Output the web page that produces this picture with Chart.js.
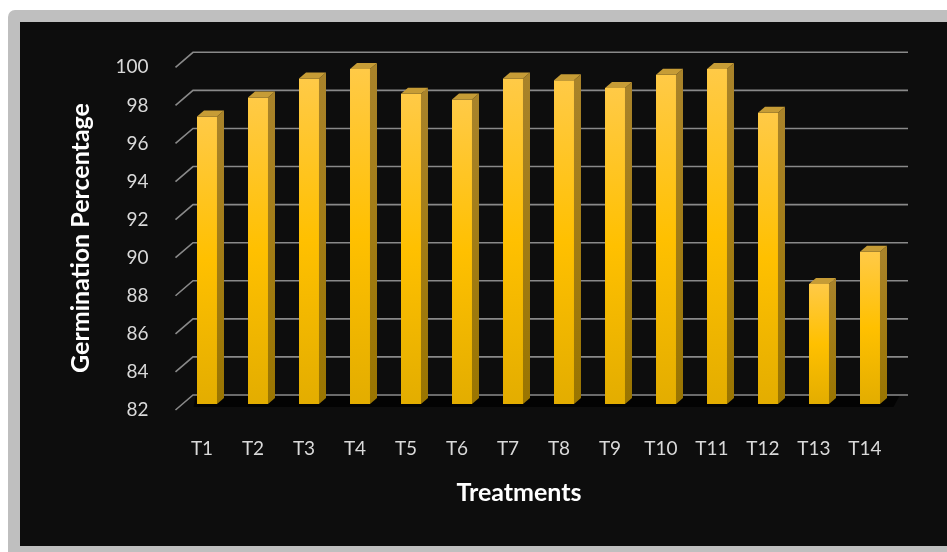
<!DOCTYPE html>
<html lang="en">
<head>
    <meta charset="UTF-8">
    <title>Germination Percentage</title>
    <script src="https://cdn.jsdelivr.net/npm/chart.js"></script>
    <style>
        body { margin: 0; background: #fff; }
    </style>
</head>
<body>

<canvas id="germChart" width="947" height="552"></canvas>

<script>
    // data
    const treatments = ['T1', 'T2', 'T3', 'T4', 'T5', 'T6', 'T7', 'T8', 'T9', 'T10', 'T11', 'T12', 'T13', 'T14'];
    const germination = [97.1, 98.1, 99.1, 99.6, 98.3, 98.0, 99.1, 99.0, 98.6, 99.3, 99.6, 97.3, 88.3, 90.0];
    const yTicks = [82, 84, 86, 88, 90, 92, 94, 96, 98, 100];
    const yTitle = 'Germination Percentage';
    const xTitle = 'Treatments';

    // 3d look: bar depth and floor depth (px)
    const barDx = 7, barDy = 6;
    const frontDx = -6, frontDy = 6;
    const backDx = 11.5, backDy = -9;

    // background frame
    const framePlugin = {
        id: 'frame',
        beforeDraw(chart) {
            const c = chart.ctx;
            c.save();
            c.fillStyle = '#ffffff';
            c.fillRect(0, 0, chart.width, chart.height);
            c.fillStyle = '#bfbfbf';
            c.beginPath();
            c.roundRect(8, 10, chart.width, chart.height, 7);
            c.fill();
            c.fillStyle = '#0d0d0d';
            c.fillRect(20, 22, chart.width - 20, 546 - 22);
            c.restore();
        }
    };

    // floor shadow + 3d gridlines
    const gridPlugin = {
        id: 'grid3d',
        beforeDatasetsDraw(chart) {
            const c = chart.ctx, y = chart.scales.y, area = chart.chartArea;
            c.save();
            // shadow on the floor
            const base = y.getPixelForValue(yTicks[0]);
            c.fillStyle = 'rgba(0,0,0,0.75)';
            c.beginPath();
            c.moveTo(area.left + 14, base - 8);
            c.lineTo(area.right + 4, base - 8);
            c.lineTo(area.right - 2, base + 3);
            c.lineTo(area.left + 12, base + 3);
            c.closePath();
            c.fill();

            c.strokeStyle = '#898989';
            c.lineWidth = 1.6;
            yTicks.forEach(v => {
                const py = y.getPixelForValue(v);
                c.beginPath();
                c.moveTo(area.left + frontDx, py + frontDy);
                c.lineTo(area.left + backDx, py + backDy);
                c.lineTo(area.right + backDx + 1, py + backDy);
                c.stroke();
            });
            c.restore();
        }
    };

    // side and top faces of the bars
    const barsPlugin = {
        id: 'bars3d',
        afterDatasetsDraw(chart) {
            const c = chart.ctx;
            const meta = chart.getDatasetMeta(0);
            const b = chart.scales.y.getPixelForValue(yTicks[0]);
            c.save();
            meta.data.forEach(bar => {
                const l = bar.x - bar.width / 2, r = bar.x + bar.width / 2;
                const t = bar.y;
                const side = c.createLinearGradient(0, t, 0, b);
                side.addColorStop(0, '#a9832a');
                side.addColorStop(1, '#9a7500');
                c.fillStyle = side;
                c.beginPath();
                c.moveTo(r, t);
                c.lineTo(r + barDx, t - barDy);
                c.lineTo(r + barDx, b - barDy);
                c.lineTo(r, b);
                c.closePath();
                c.fill();
                c.fillStyle = '#c69c36';
                c.beginPath();
                c.moveTo(l, t);
                c.lineTo(l + barDx, t - barDy);
                c.lineTo(r + barDx, t - barDy);
                c.lineTo(r, t);
                c.closePath();
                c.fill();
            });
            c.restore();
        }
    };

    // axis titles
    const titlePlugin = {
        id: 'titles',
        afterDraw(chart) {
            const c = chart.ctx;
            c.save();
            c.fillStyle = '#ffffff';
            c.textAlign = 'center';
            c.textBaseline = 'middle';
            c.font = 'bold 25px Lato';
            c.translate(81, 238);
            c.rotate(-Math.PI / 2);
            c.fillText(yTitle, 0, 0);
            c.restore();
            c.save();
            c.fillStyle = '#ffffff';
            c.textAlign = 'center';
            c.textBaseline = 'middle';
            c.font = 'bold 25px Lato';
            c.fillText(xTitle, 519, 493);
            c.restore();
        }
    };

    function draw() {
        const ctx = document.getElementById('germChart').getContext('2d');
        new Chart(ctx, {
            type: 'bar',
            data: {
                labels: treatments,
                datasets: [{
                    data: germination,
                    borderWidth: 0,
                    barPercentage: 0.392,
                    categoryPercentage: 1,
                    backgroundColor: c => {
                        const chart = c.chart;
                        if (!chart.chartArea || c.type !== 'data') return '#ffc000';
                        const top = chart.scales.y.getPixelForValue(c.raw);
                        const g = chart.ctx.createLinearGradient(0, top, 0, chart.chartArea.bottom);
                        g.addColorStop(0, '#ffca47');
                        g.addColorStop(0.5, '#ffc000');
                        g.addColorStop(1, '#e3ad00');
                        return g;
                    }
                }]
            },
            options: {
                responsive: false,
                animation: false,
                layout: { padding: { left: 0, top: 61.3, right: 51.5, bottom: 0 } },
                plugins: { legend: { display: false }, tooltip: { enabled: false } },
                scales: {
                    x: {
                        grid: { display: false },
                        border: { display: false },
                        ticks: { color: '#d9d9d9', font: { family: 'Lato', size: 19 }, padding: 25, labelOffset: -5, maxRotation: 0 },
                        afterFit: s => { s.height = 148; }
                    },
                    y: {
                        min: 82,
                        max: 100,
                        grid: { display: false },
                        border: { display: false },
                        afterBuildTicks: s => { s.ticks = yTicks.map(v => ({ value: v })); },
                        ticks: { color: '#d9d9d9', font: { family: 'Lato', size: 19 }, padding: 25, labelOffset: 6 },
                        afterFit: s => { s.width = 181.5; }
                    }
                }
            },
            plugins: [framePlugin, gridPlugin, barsPlugin, titlePlugin]
        });
    }

    Promise.all([
        document.fonts.load('19px Lato'),
        document.fonts.load('bold 25px Lato')
    ]).then(draw, draw);
</script>

</body>
</html>
